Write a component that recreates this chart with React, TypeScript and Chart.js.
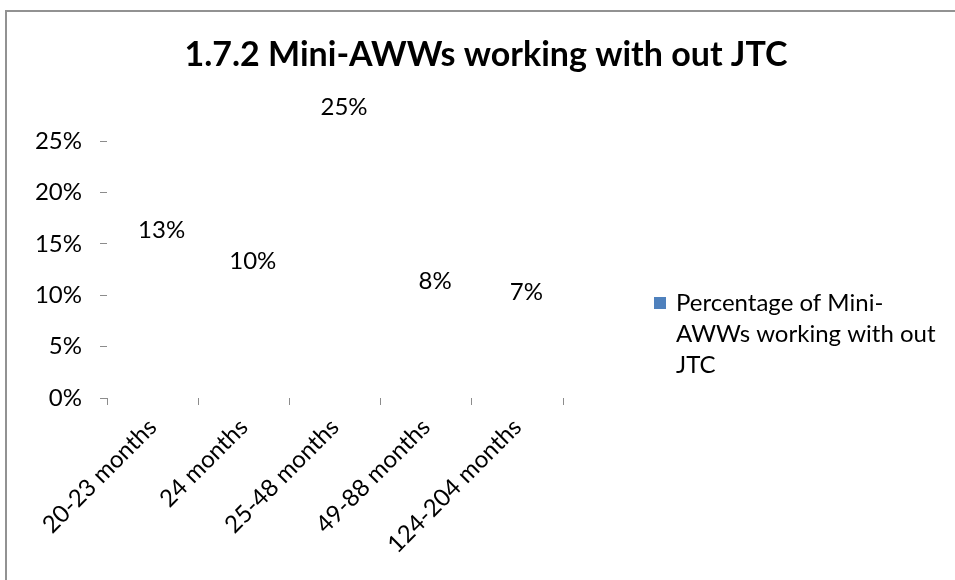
import React, { useEffect, useRef } from "react";
import { Chart, registerables } from "chart.js";

Chart.register(...registerables);

const chartTitle = "1.7.2 Mini-AWWs working with out JTC";
const seriesName = "Percentage of Mini-AWWs working with out JTC";
const categories = ["20-23 months", "24 months", "25-48 months", "49-88 months", "124-204 months"];
const values = [0.13, 0.10, 0.25, 0.08, 0.07];
const yMin = 0;
const yMax = 0.25;
const yStep = 0.05;

const FONT = "Lato, 'Open Sans', sans-serif";
const SWATCH = "#4F81BD";
const pct = (v: number) => `${Math.round(v * 100)}%`;

function wrapText(ctx: CanvasRenderingContext2D, text: string, maxW: number): string[] {
  // pieces: break after spaces and after hyphens
  const pieces: { t: string; sep: string }[] = [];
  text.split(" ").forEach((word, wi) => {
    const parts = word.split(/(?<=-)/);
    parts.forEach((p, pi) => {
      pieces.push({ t: p, sep: pi === 0 && wi > 0 ? " " : "" });
    });
  });
  const lines: string[] = [];
  let cur = "";
  pieces.forEach((p) => {
    const test = cur ? cur + p.sep + p.t : p.t;
    if (cur && ctx.measureText(test).width > maxW) {
      lines.push(cur);
      cur = p.t;
    } else cur = test;
  });
  if (cur) lines.push(cur);
  return lines;
}

const decorPlugin = {
  id: "decor",
  beforeDraw(chart: any) {
    const { ctx } = chart;
    ctx.save();
    ctx.fillStyle = "#ffffff";
    ctx.fillRect(0, 0, chart.width, chart.height);
    ctx.strokeStyle = "#929292";
    ctx.lineWidth = 2;
    ctx.beginPath();
    ctx.moveTo(6, chart.height + 5);
    ctx.lineTo(6, 11);
    ctx.lineTo(chart.width + 5, 11);
    ctx.stroke();
    ctx.restore();
  },
  afterDraw(chart: any) {
    const { ctx } = chart;
    ctx.save();
    // title
    ctx.fillStyle = "#000";
    ctx.font = `bold 34px ${FONT}`;
    ctx.textAlign = "center";
    ctx.textBaseline = "alphabetic";
    ctx.fillText(chartTitle, 486, 66);
    // legend (wrapped)
    ctx.font = `24px ${FONT}`;
    ctx.textAlign = "left";
    ctx.textBaseline = "middle";
    const lines = wrapText(ctx, seriesName, 265);
    const lx = 676;
    const ly = 303;
    const lh = 31;
    ctx.fillStyle = SWATCH;
    ctx.fillRect(654, ly - 6, 12, 12);
    ctx.fillStyle = "#000";
    lines.forEach((l, i) => ctx.fillText(l, lx, ly + i * lh));
    ctx.restore();
  },
  afterDatasetsDraw(chart: any) {
    const { ctx } = chart;
    const meta = chart.getDatasetMeta(0);
    ctx.save();
    ctx.fillStyle = "#000";
    ctx.font = `24px ${FONT}`;
    ctx.textAlign = "center";
    ctx.textBaseline = "middle";
    meta.data.forEach((el: any, i: number) => {
      ctx.fillText(pct(chart.data.datasets[0].data[i]), el.x + 9, el.y - 34);
    });
    ctx.restore();
  },
};

export default function App() {
  const ref = useRef<HTMLCanvasElement | null>(null);
  useEffect(() => {
    if (!ref.current) return;
    const chart = new Chart(ref.current, {
      type: "bar",
      data: {
        labels: categories,
        datasets: [
          {
            label: seriesName,
            data: values,
            backgroundColor: "rgba(255,255,255,0)",
            borderWidth: 0,
          },
        ],
      },
      options: {
        responsive: false,
        animation: false,
        devicePixelRatio: 1,
        layout: { padding: { top: 141, right: 392, left: 0, bottom: 0 } },
        plugins: {
          legend: { display: false },
          title: { display: false },
          tooltip: { enabled: false },
        },
        scales: {
          x: {
            afterFit: (s: any) => {
              s.height = 182;
            },
            border: { display: false },
            grid: {
              offset: true,
              drawOnChartArea: false,
              drawTicks: true,
              tickLength: 7,
              color: "#8c8c8c",
            },
            ticks: {
              color: "#000",
              font: { family: FONT, size: 24 },
              minRotation: 45,
              maxRotation: 45,
              padding: 8,
              autoSkip: false,
            },
          },
          y: {
            min: yMin,
            max: yMax,
            afterFit: (s: any) => {
              s.width = 107;
            },
            border: { display: false },
            grid: {
              drawOnChartArea: false,
              drawTicks: true,
              tickLength: 7,
              color: "#8c8c8c",
            },
            ticks: {
              stepSize: yStep,
              color: "#000",
              font: { family: FONT, size: 24 },
              padding: 18,
              callback: (v: any) => pct(Number(v)),
            },
          },
        },
      },
      plugins: [decorPlugin],
    });
    return () => chart.destroy();
  }, []);
  return (
    <div style={{ position: "absolute", left: 0, top: 0, width: 955, height: 580, overflow: "hidden" }}>
      <canvas ref={ref} width={955} height={580} style={{ display: "block" }} />
    </div>
  );
}
